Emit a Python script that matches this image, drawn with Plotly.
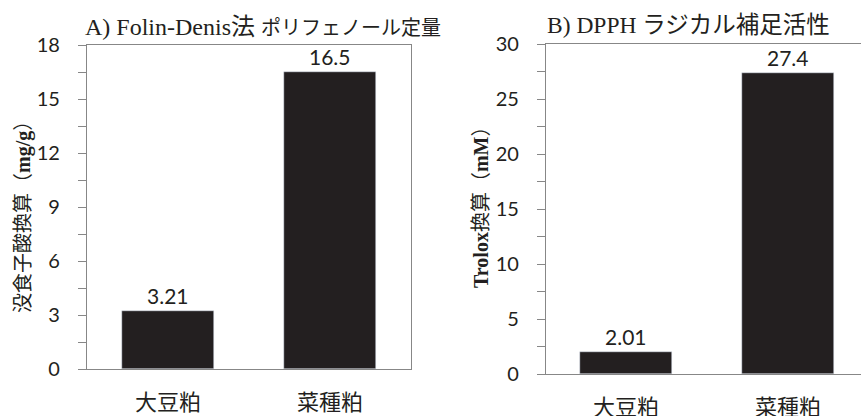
import plotly.graph_objects as go

categories = ["大豆粕", "菜種粕"]
folin_values = [3.21, 16.5]
dpph_values = [2.01, 27.4]
folin_labels = ["3.21", "16.5"]
dpph_labels = ["2.01", "27.4"]
folin_ticks = [0, 3, 6, 9, 12, 15, 18]
dpph_ticks = [0, 5, 10, 15, 20, 25, 30]

W, H = 861, 416
BAR = "#231f20"
AX = "#878787"
TXT = "#231f20"

def px(x):
    return x / W

def py(y):
    return 1 - y / H

fig = go.Figure()
fig.add_trace(go.Bar(x=categories, y=folin_values, text=folin_labels, textposition="outside",
                     textfont=dict(family="Lato", size=21, color=TXT), marker_color=BAR,
                     width=0.57, cliponaxis=False, xaxis="x", yaxis="y", showlegend=False))
fig.add_trace(go.Bar(x=categories, y=dpph_values, text=dpph_labels, textposition="outside",
                     textfont=dict(family="Lato", size=21, color=TXT), marker_color=BAR,
                     width=0.57, cliponaxis=False, xaxis="x2", yaxis="y2", showlegend=False))

xcommon = dict(type="category", showline=True, linecolor=AX, linewidth=1.3, ticks="",
               showgrid=False, zeroline=False, fixedrange=True, automargin=False,
               tickfont=dict(family="Noto Sans CJK JP", size=22, color=TXT), ticklabelstandoff=13)
ycommon = dict(showline=True, linecolor=AX, linewidth=1.3, ticks="outside", ticklen=8,
               tickwidth=1.3, tickcolor=AX, showgrid=False, zeroline=False, automargin=False,
               tickfont=dict(family="Lato", size=20, color=TXT), ticklabelstandoff=14)

fig.update_layout(
    width=W, height=H, margin=dict(l=0, r=0, t=0, b=0, autoexpand=False),
    paper_bgcolor="white", plot_bgcolor="white", bargap=0,
    xaxis=dict(xcommon, domain=[px(87), px(411)], range=[-0.5, 1.5], anchor="y", mirror=True),
    yaxis=dict(ycommon, domain=[py(369), py(45)], range=[0, 18], tickvals=folin_ticks,
               ticktext=[str(t) for t in folin_ticks], anchor="x", mirror=True,
               minor=dict(dtick=1.5, ticks="outside", ticklen=8, tickwidth=1.3, tickcolor=AX)),
    xaxis2=dict(xcommon, domain=[px(546), 1.0], range=[-0.494, 1.451], anchor="y2", mirror=True),
    yaxis2=dict(ycommon, domain=[py(374), py(44)], range=[0, 30], tickvals=dpph_ticks,
                ticktext=[str(t) for t in dpph_ticks], anchor="x2", mirror=False,
                minor=dict(dtick=2.5, ticks="outside", ticklen=8, tickwidth=1.3, tickcolor=AX)),
)

serif = "Liberation Serif, Noto Sans CJK JP"
fig.add_annotation(x=px(83), y=py(27), xref="paper", yref="paper", xanchor="left", yanchor="middle",
                   showarrow=False,
                   text="A) Folin-Denis法 <span style='font-size:20px'>ポリフェノール定量</span>",
                   font=dict(family=serif, size=24, color=TXT))
fig.add_annotation(x=px(545), y=py(25), xref="paper", yref="paper", xanchor="left", yanchor="middle",
                   showarrow=False, text="B) DPPH ラジカル補足活性",
                   font=dict(family=serif, size=23.5, color=TXT))
fig.add_annotation(x=px(23), y=py(212), xref="paper", yref="paper", xanchor="center", yanchor="middle",
                   showarrow=False, textangle=-90, text="没食子酸換算（<b>mg/g</b>）",
                   font=dict(family=serif, size=20, color=TXT))
fig.add_annotation(x=px(481), y=py(202), xref="paper", yref="paper", xanchor="center", yanchor="middle",
                   showarrow=False, textangle=-90, text="<b>Trolox</b>換算（<b>mM</b>）",
                   font=dict(family=serif, size=20, color=TXT))

fig.write_html("out.html", config={"displayModeBar": False},
               post_script="document.body.style.margin='0';document.body.style.overflow='hidden';")
